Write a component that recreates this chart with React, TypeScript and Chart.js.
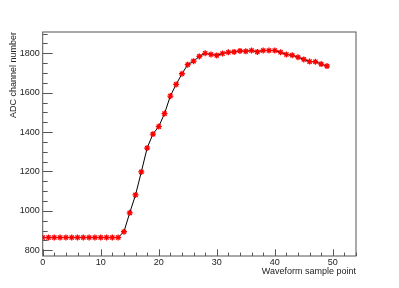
import React, { useEffect, useRef } from "react";
import { Chart, registerables } from "chart.js";

Chart.register(...registerables);

const samplePoints: number[] = [
  0, 1, 2, 3, 4, 5, 6, 7, 8, 9, 10, 11, 12, 13, 14, 15, 16, 17, 18, 19, 20, 21, 22, 23, 24,
  25, 26, 27, 28, 29, 30, 31, 32, 33, 34, 35, 36, 37, 38, 39, 40, 41, 42, 43, 44, 45, 46, 47, 48, 49,
];
const adcValues: number[] = [
  865, 865, 865, 865, 865, 865, 865, 865, 865, 865, 865, 865, 865, 865,
  894, 990, 1081, 1198, 1319, 1390, 1428, 1494, 1583, 1642, 1696, 1742, 1760, 1784,
  1800, 1794, 1789, 1799, 1805, 1807, 1812, 1810, 1814, 1807, 1814, 1814, 1814,
  1805, 1794, 1790, 1780, 1769, 1758, 1757, 1745, 1735,
];
const xTickLabels: number[] = [0, 10, 20, 30, 40, 50];
const yTickLabels: number[] = [800, 1000, 1200, 1400, 1600, 1800];
const xRange: number[] = [0, 54];
const yRange: number[] = [771, 1908];
const xMajor = 10;
const xMinor = 2;
const yMajor = 200;
const yMinor = 50;
const xTitle = "Waveform sample point";
const yTitle = "ADC channel number";

const FONT = "'Liberation Sans', Arial, Helvetica, sans-serif";

const framePlugin = {
  id: "rootFrame",
  beforeDatasetsDraw(chart: any) {
    const { ctx, chartArea, scales } = chart;
    const { left, right, top, bottom } = chartArea;
    const xs = scales.x;
    const ys = scales.y;
    ctx.save();
    ctx.strokeStyle = "#555";
    ctx.lineWidth = 1;
    ctx.strokeRect(left, top, right - left, bottom - top);
    ctx.beginPath();
    for (let v = Math.ceil(xs.min / xMinor) * xMinor; v <= xs.max + 1e-9; v += xMinor) {
      const px = Math.round(xs.getPixelForValue(v)) + 0.5;
      const isMajor = Math.abs(v / xMajor - Math.round(v / xMajor)) < 1e-9;
      const len = isMajor ? 6.7 : 3.4;
      ctx.moveTo(px, bottom);
      ctx.lineTo(px, bottom - len);
    }
    for (let v = Math.ceil(ys.min / yMinor) * yMinor; v <= ys.max + 1e-9; v += yMinor) {
      const py = Math.round(ys.getPixelForValue(v)) + 0.5;
      const isMajor = Math.abs(v / yMajor - Math.round(v / yMajor)) < 1e-9;
      const len = isMajor ? 10 : 5;
      ctx.moveTo(left, py);
      ctx.lineTo(left + len, py);
    }
    ctx.stroke();
    ctx.restore();
  },
};

export default function App() {
  const ref = useRef<HTMLCanvasElement | null>(null);
  useEffect(() => {
    if (!ref.current) return;
    const chart = new Chart(ref.current, {
      type: "line",
      data: {
        datasets: [
          {
            data: samplePoints.map((x, i) => ({ x, y: adcValues[i] })),
            borderColor: "#000",
            borderWidth: 1,
            pointStyle: "star",
            pointRadius: 3,
            pointBorderColor: "#ff0000",
            pointBackgroundColor: "#ff0000",
            pointBorderWidth: 1.3,
            tension: 0,
          },
        ],
      },
      options: {
        responsive: false,
        animation: false,
        layout: { padding: { left: 0, top: 32, right: 43, bottom: 0 } },
        plugins: { legend: { display: false }, tooltip: { enabled: false } },
        scales: {
          x: {
            type: "linear",
            min: xRange[0],
            max: xRange[1],
            grid: { display: false, drawTicks: false },
            border: { display: false },
            ticks: {
              padding: 1.5,
              color: "#222",
              font: { family: FONT, size: 9 },
              maxRotation: 0,
              autoSkip: false,
              callback: (v: any) => String(v),
            },
            afterBuildTicks: (s: any) => {
              s.ticks = xTickLabels.map((value) => ({ value }));
            },
            afterFit: (s: any) => {
              s.height = 32;
            },
            title: {
              display: true,
              text: xTitle,
              align: "end",
              color: "#222",
              font: { family: FONT, size: 9 },
              padding: { top: 0, bottom: 11 },
            },
          },
          y: {
            type: "linear",
            min: yRange[0],
            max: yRange[1],
            grid: { display: false, drawTicks: false },
            border: { display: false },
            ticks: {
              padding: 3,
              color: "#222",
              font: { family: FONT, size: 9 },
              autoSkip: false,
              callback: (v: any) => String(v),
            },
            afterBuildTicks: (s: any) => {
              s.ticks = yTickLabels.map((value) => ({ value }));
            },
            afterFit: (s: any) => {
              s.width = 42.7;
            },
            title: {
              display: true,
              text: yTitle,
              align: "end",
              color: "#222",
              font: { family: FONT, size: 9 },
              padding: { top: 8, bottom: 0 },
            },
          },
        },
      },
      plugins: [framePlugin],
    });
    return () => chart.destroy();
  }, []);
  return (
    <div style={{ position: "absolute", left: 0, top: 0, width: 399, height: 288, background: "#fff" }}>
      <canvas ref={ref} width={399} height={288} />
    </div>
  );
}
